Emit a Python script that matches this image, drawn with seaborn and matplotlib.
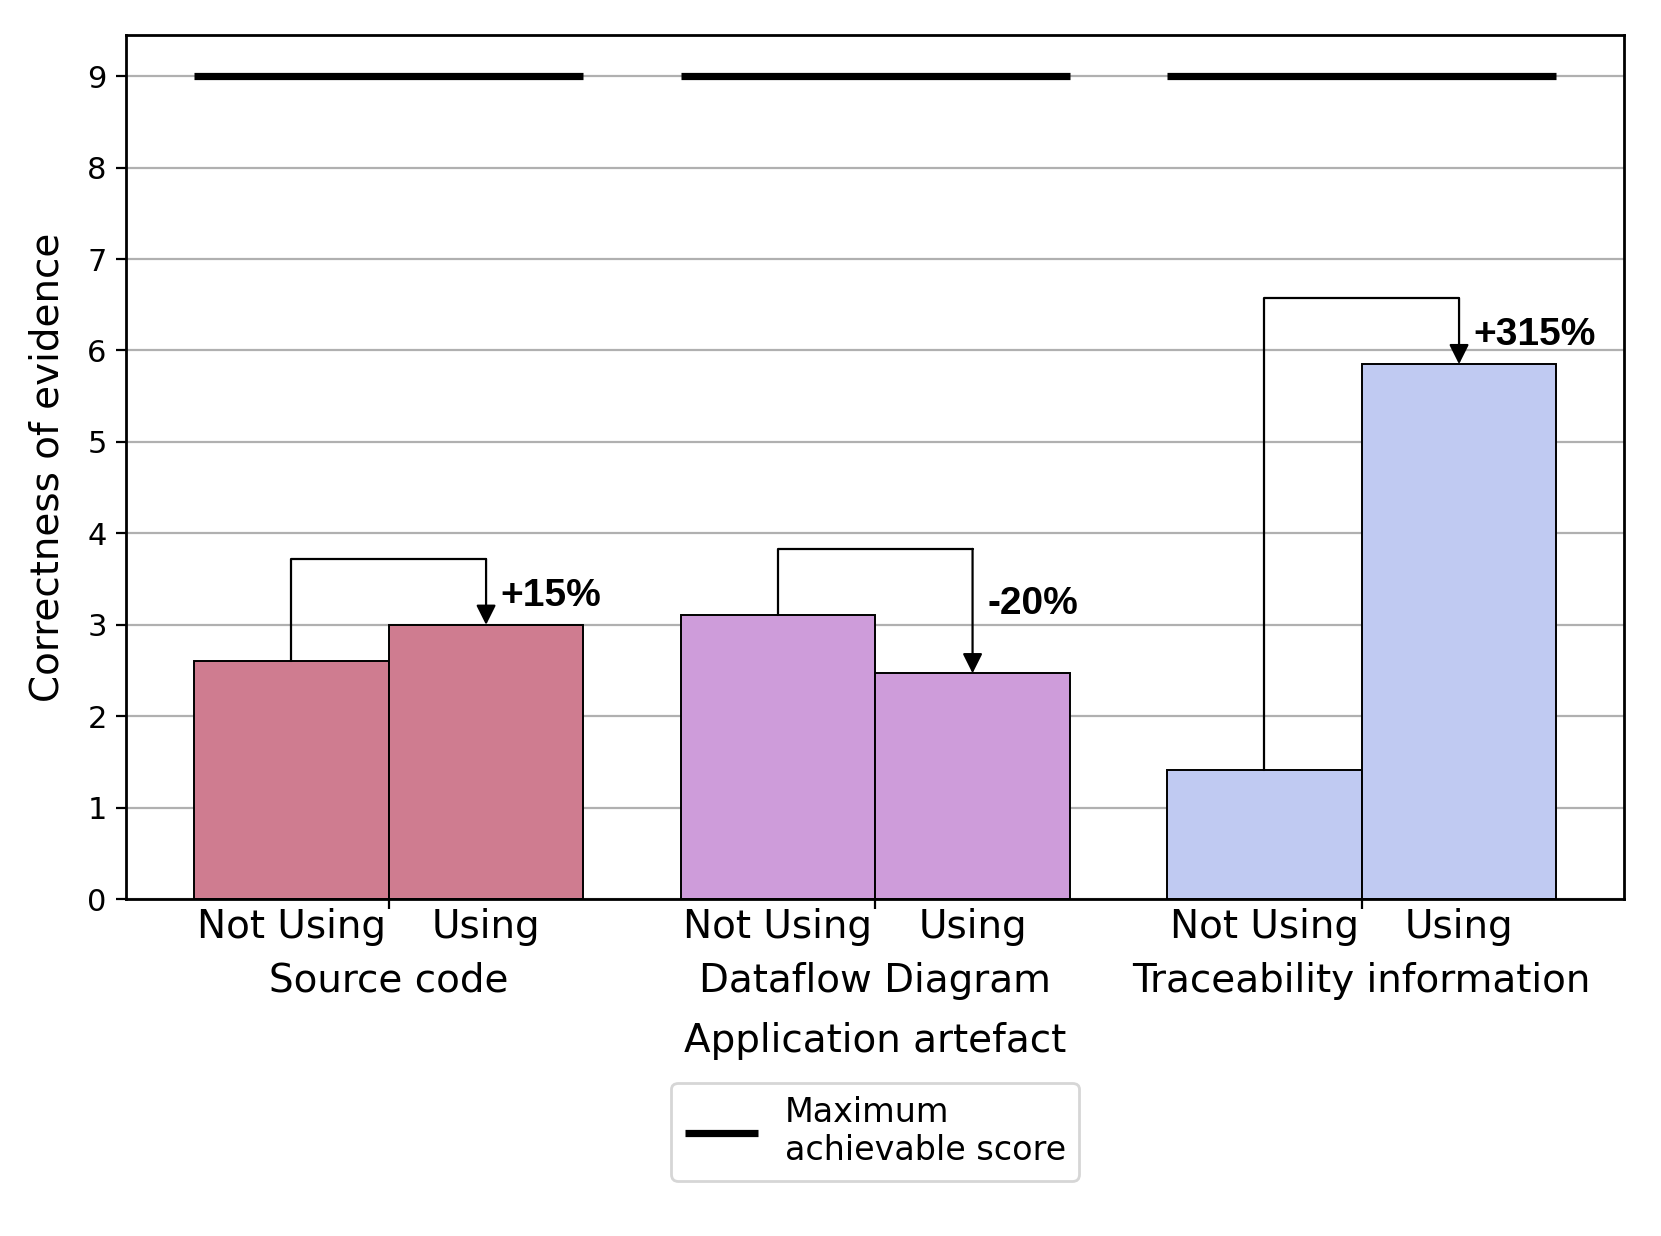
import pandas as pd
import seaborn as sns
import matplotlib.pyplot as plt

# ---------------------------------------------------------------------------
# Data
# ---------------------------------------------------------------------------
artefacts = ["Source code", "Dataflow Diagram", "Traceability information"]
conditions = ["Not Using", "Using"]
not_using = [2.61, 3.11, 1.41]
using = [3.0, 2.47, 5.85]
changes = ["+15%", "-20%", "+315%"]
max_score = 9
colors = ["#CF7C90", "#CE9CDA", "#C0CAF2"]

df = pd.DataFrame({
    "artefact": artefacts * 2,
    "condition": [conditions[0]] * 3 + [conditions[1]] * 3,
    "score": not_using + using,
})

# ---------------------------------------------------------------------------
# Plot
# ---------------------------------------------------------------------------
sns.set_style("white")
plt.rcParams["font.family"] = ["DejaVu Sans"]
plt.rcParams["text.color"] = "black"
plt.rcParams["axes.labelcolor"] = "black"
plt.rcParams["xtick.color"] = "black"
plt.rcParams["ytick.color"] = "black"

fig = plt.figure(figsize=(8.305, 6.18), dpi=200)
ax = fig.add_axes([0.0759, 0.2725, 0.9021, 0.6992])

ax.yaxis.grid(True, color="#b0b0b0", linewidth=0.8, zorder=0)
ax.set_axisbelow(True)

sns.barplot(
    data=df, x="artefact", y="score", hue="condition", order=artefacts,
    hue_order=conditions, width=0.8, dodge=True, edgecolor="black",
    linewidth=0.7, legend=False, ax=ax, errorbar=None,
)

# colour bars by artefact rather than by condition
for container in ax.containers:
    for i, bar in enumerate(container):
        bar.set_facecolor(colors[i])
        bar.set_zorder(2)

# maximum achievable score lines
for i in range(len(artefacts)):
    ax.plot([i - 0.4, i + 0.4], [max_score, max_score], color="black",
            linewidth=2.6, solid_capstyle="butt", zorder=3,
            label="Maximum\nachievable score" if i == 0 else None)

# change brackets
for i in range(len(artefacts)):
    x0, x1 = i - 0.2, i + 0.2
    top = max(not_using[i], using[i]) + 0.72
    ax.plot([x0, x0, x1], [not_using[i], top, top], color="black",
            linewidth=0.8, zorder=4)
    ax.annotate("", xy=(x1, using[i]), xytext=(x1, top),
                arrowprops=dict(arrowstyle="-|>,head_length=0.6,head_width=0.3",
                                color="black", lw=0.8, shrinkA=0, shrinkB=0),
                zorder=4)
    label_y = using[i] + 0.32 if using[i] > not_using[i] else using[i] + 0.76
    ax.text(x1 + 0.03, label_y, changes[i], fontsize=14, fontweight="bold",
            color="black", family=["Liberation Sans", "DejaVu Sans"],
            ha="left", va="center")

ax.set_xlim(-0.54, 2.54)
ax.set_ylim(0, 9.45)
ax.set_yticks(range(0, 10))
ax.tick_params(axis="y", labelsize=11, length=3.5, width=0.8, left=True)

# x ticks: conditions at bar centres, artefact names below
ax.set_xticks(range(len(artefacts)))
ax.set_xticklabels(artefacts, fontsize=14)
ax.tick_params(axis="x", which="major", length=3.5, width=0.8, pad=19,
               bottom=True)
minor_pos = [i + d for i in range(len(artefacts)) for d in (-0.2, 0.2)]
ax.set_xticks(minor_pos, minor=True)
ax.set_xticklabels(conditions * len(artefacts), minor=True, fontsize=14)
ax.tick_params(axis="x", which="minor", length=0, pad=3)

ax.set_xlabel("Application artefact", fontsize=14, labelpad=8)
ax.set_ylabel("Correctness of evidence", fontsize=14, labelpad=7.5)

for spine in ax.spines.values():
    spine.set_color("black")
    spine.set_linewidth(1.0)
    spine.set_visible(True)

ax.legend(loc="upper center", bbox_to_anchor=(0.5, -0.193), fontsize=12,
          frameon=True, handlelength=2.2)

fig.savefig("out.png", dpi=200)
